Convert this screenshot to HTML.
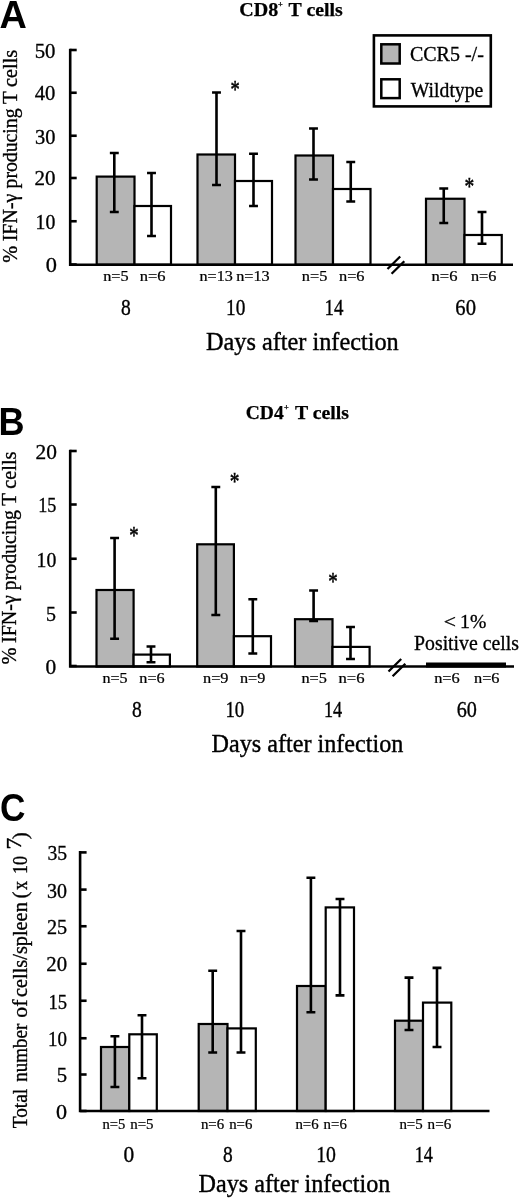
<!DOCTYPE html>
<html><head><meta charset="utf-8"><title>Figure</title>
<style>
html,body{margin:0;padding:0;background:#fff;}
svg{display:block;}
</style></head><body>
<svg width="520" height="1198" viewBox="0 0 520 1198">
<rect width="520" height="1198" fill="#fff"/>
<text transform="translate(-0.55 28.10) scale(0.9984 1)" font-size="37.97" font-weight="bold" font-family='"Liberation Sans", sans-serif' fill="#000" stroke="#000" stroke-width="0">A</text>
<text font-size="19.6" font-weight="bold" font-family='"Liberation Serif", serif' fill="#000" stroke="#000" stroke-width="0.25"><tspan x="239.30" y="16.30" textLength="38.99" lengthAdjust="spacingAndGlyphs">CD8</tspan><tspan x="278.09" y="7.30" font-size="7.5" textLength="4.73" lengthAdjust="spacingAndGlyphs">+</tspan> <tspan x="288.60" y="16.30" textLength="54.22" lengthAdjust="spacingAndGlyphs">T cells</tspan></text>
<rect x="96.7" y="176.6" width="37.80" height="88.10" fill="#b5b5b5" stroke="#000" stroke-width="2.2"/>
<rect x="134.5" y="206" width="36.50" height="58.70" fill="#fff" stroke="#000" stroke-width="2.2"/>
<rect x="197.5" y="154.5" width="37.50" height="110.20" fill="#b5b5b5" stroke="#000" stroke-width="2.2"/>
<rect x="235" y="181" width="37.00" height="83.70" fill="#fff" stroke="#000" stroke-width="2.2"/>
<rect x="295.5" y="155.5" width="37.50" height="109.20" fill="#b5b5b5" stroke="#000" stroke-width="2.2"/>
<rect x="333" y="189" width="37.50" height="75.70" fill="#fff" stroke="#000" stroke-width="2.2"/>
<rect x="426" y="198.75" width="38.50" height="65.95" fill="#b5b5b5" stroke="#000" stroke-width="2.2"/>
<rect x="464.5" y="235" width="37.25" height="29.70" fill="#fff" stroke="#000" stroke-width="2.2"/>
<path d="M114.3 153V212M109.85 153h8.9M109.85 212h8.9" stroke="#000" stroke-width="2.6" fill="none"/>
<path d="M151.5 173V236M147.05 173h8.9M147.05 236h8.9" stroke="#000" stroke-width="2.6" fill="none"/>
<path d="M216.5 92.5V185M212.05 92.5h8.9M212.05 185h8.9" stroke="#000" stroke-width="2.6" fill="none"/>
<path d="M253.5 153.75V206M249.05 153.75h8.9M249.05 206h8.9" stroke="#000" stroke-width="2.6" fill="none"/>
<path d="M313.5 128.5V179.5M309.05 128.5h8.9M309.05 179.5h8.9" stroke="#000" stroke-width="2.6" fill="none"/>
<path d="M350.75 162V201.5M346.3 162h8.9M346.3 201.5h8.9" stroke="#000" stroke-width="2.6" fill="none"/>
<path d="M443.75 188.5V223M439.3 188.5h8.9M439.3 223h8.9" stroke="#000" stroke-width="2.6" fill="none"/>
<path d="M482 212V243.75M477.55 212h8.9M477.55 243.75h8.9" stroke="#000" stroke-width="2.6" fill="none"/>
<path d="M70.2 48.7V264.7H513" stroke="#000" stroke-width="2.6" fill="none"/>
<path d="M70.2 50h6.5" stroke="#000" stroke-width="2.6"/>
<path d="M70.2 92.75h6.5" stroke="#000" stroke-width="2.6"/>
<path d="M70.2 135.75h6.5" stroke="#000" stroke-width="2.6"/>
<path d="M70.2 178h6.5" stroke="#000" stroke-width="2.6"/>
<path d="M70.2 221.25h6.5" stroke="#000" stroke-width="2.6"/>
<path d="M70.2 264.5h6.5" stroke="#000" stroke-width="2.6"/>
<path d="M387.5 269l12.7 -12.5M391.6 273.8l12.7 -12.5" stroke="#000" stroke-width="2.3" fill="none"/>
<text transform="translate(34.65 57.90) scale(1.0235 1)" font-size="20.3" font-weight="normal" font-family='"Liberation Serif", serif' fill="#000" stroke="#000" stroke-width="0.32">50</text>
<text transform="translate(34.79 99.70) scale(1.0167 1)" font-size="20.3" font-weight="normal" font-family='"Liberation Serif", serif' fill="#000" stroke="#000" stroke-width="0.32">40</text>
<text transform="translate(34.98 143.80) scale(1.0068 1)" font-size="20.3" font-weight="normal" font-family='"Liberation Serif", serif' fill="#000" stroke="#000" stroke-width="0.32">30</text>
<text transform="translate(34.46 185.30) scale(1.0337 1)" font-size="20.3" font-weight="normal" font-family='"Liberation Serif", serif' fill="#000" stroke="#000" stroke-width="0.32">20</text>
<text transform="translate(35.62 229.40) scale(0.9740 1)" font-size="20.3" font-weight="normal" font-family='"Liberation Serif", serif' fill="#000" stroke="#000" stroke-width="0.32">10</text>
<text transform="translate(45.70 271.90) scale(1.1025 1)" font-size="20.3" font-weight="normal" font-family='"Liberation Serif", serif' fill="#000" stroke="#000" stroke-width="0.32">0</text>
<text transform="translate(230.38 98.45) scale(0.7502 1)" font-size="24.66" font-weight="normal" font-family='"Liberation Serif", serif' fill="#000" stroke="#000" stroke-width="0.55">*</text>
<text transform="translate(464.42 194.69) scale(0.7653 1)" font-size="25.48" font-weight="normal" font-family='"Liberation Serif", serif' fill="#000" stroke="#000" stroke-width="0.55">*</text>
<text transform="translate(16.50 0) rotate(-90)" font-size="20.2" font-weight="normal" font-family='"Liberation Serif", serif' fill="#000" stroke="#000" stroke-width="0.32"><tspan x="-262.71" y="0.00" textLength="16.99" lengthAdjust="spacingAndGlyphs">%</tspan> <tspan x="-241.30" y="0.00" textLength="47.73" lengthAdjust="spacingAndGlyphs">IFN-γ</tspan> <tspan x="-188.50" y="0.00" textLength="80.09" lengthAdjust="spacingAndGlyphs">producing</tspan> <tspan x="-104.11" y="0.00" textLength="12.43" lengthAdjust="spacingAndGlyphs">T</tspan> <tspan x="-87.01" y="0.00" textLength="37.17" lengthAdjust="spacingAndGlyphs">cells</tspan></text>
<rect x="373.9" y="35.4" width="116.9" height="71" fill="#fff" stroke="#000" stroke-width="2.6"/>
<rect x="381.3" y="44.3" width="18.4" height="19.2" fill="#b5b5b5" stroke="#000" stroke-width="2.5"/>
<rect x="381.3" y="79.3" width="18.4" height="18.8" fill="#fff" stroke="#000" stroke-width="2.5"/>
<text transform="translate(409.90 61.00) scale(0.9770 1)" font-size="20.5" font-weight="normal" font-family='"Liberation Serif", serif' fill="#000" stroke="#000" stroke-width="0.33">CCR5 -/-</text>
<text transform="translate(410.80 97.10) scale(0.9609 1)" font-size="20.5" font-weight="normal" font-family='"Liberation Serif", serif' fill="#000" stroke="#000" stroke-width="0.33">Wildtype</text>
<text transform="translate(103.17 281.20) scale(1.0853 1)" font-size="15.0" font-weight="normal" font-family='"Liberation Serif", serif' fill="#000" stroke="#000" stroke-width="0.24">n=5</text>
<text transform="translate(139.67 281.20) scale(1.1001 1)" font-size="15.0" font-weight="normal" font-family='"Liberation Serif", serif' fill="#000" stroke="#000" stroke-width="0.24">n=6</text>
<text transform="translate(199.48 281.20) scale(1.0773 1)" font-size="15.0" font-weight="normal" font-family='"Liberation Serif", serif' fill="#000" stroke="#000" stroke-width="0.24">n=13</text>
<text transform="translate(236.17 281.20) scale(1.0840 1)" font-size="15.0" font-weight="normal" font-family='"Liberation Serif", serif' fill="#000" stroke="#000" stroke-width="0.24">n=13</text>
<text transform="translate(301.77 281.20) scale(1.0897 1)" font-size="15.0" font-weight="normal" font-family='"Liberation Serif", serif' fill="#000" stroke="#000" stroke-width="0.24">n=5</text>
<text transform="translate(338.97 281.20) scale(1.0913 1)" font-size="15.0" font-weight="normal" font-family='"Liberation Serif", serif' fill="#000" stroke="#000" stroke-width="0.24">n=6</text>
<text transform="translate(431.57 281.20) scale(1.1045 1)" font-size="15.0" font-weight="normal" font-family='"Liberation Serif", serif' fill="#000" stroke="#000" stroke-width="0.24">n=6</text>
<text transform="translate(470.88 281.20) scale(1.0825 1)" font-size="15.0" font-weight="normal" font-family='"Liberation Serif", serif' fill="#000" stroke="#000" stroke-width="0.24">n=6</text>
<text transform="translate(121.02 314.90) scale(0.8834 1)" font-size="22.1" font-weight="normal" font-family='"Liberation Serif", serif' fill="#000" stroke="#000" stroke-width="0.35">8</text>
<text transform="translate(226.06 314.90) scale(0.8739 1)" font-size="22.1" font-weight="normal" font-family='"Liberation Serif", serif' fill="#000" stroke="#000" stroke-width="0.35">10</text>
<text transform="translate(324.59 314.90) scale(0.8547 1)" font-size="22.1" font-weight="normal" font-family='"Liberation Serif", serif' fill="#000" stroke="#000" stroke-width="0.35">14</text>
<text transform="translate(455.37 314.90) scale(0.9345 1)" font-size="22.1" font-weight="normal" font-family='"Liberation Serif", serif' fill="#000" stroke="#000" stroke-width="0.35">60</text>
<text transform="translate(205.97 349.60) scale(0.9997 1)" font-size="24.3" font-weight="normal" font-family='"Liberation Serif", serif' fill="#000" stroke="#000" stroke-width="0.39">Days after infection</text>
<text transform="translate(-1.44 435.00) scale(0.9319 1)" font-size="38.7" font-weight="bold" font-family='"Liberation Sans", sans-serif' fill="#000" stroke="#000" stroke-width="0">B</text>
<text font-size="19.6" font-weight="bold" font-family='"Liberation Serif", serif' fill="#000" stroke="#000" stroke-width="0.25"><tspan x="245.72" y="419.00" textLength="37.95" lengthAdjust="spacingAndGlyphs">CD4</tspan><tspan x="284.09" y="409.60" font-size="7.5" textLength="4.73" lengthAdjust="spacingAndGlyphs">+</tspan> <tspan x="294.90" y="419.00" textLength="54.12" lengthAdjust="spacingAndGlyphs">T cells</tspan></text>
<rect x="96.5" y="590" width="37.10" height="76.50" fill="#b5b5b5" stroke="#000" stroke-width="2.2"/>
<rect x="133.6" y="654.6" width="36.30" height="11.90" fill="#fff" stroke="#000" stroke-width="2.2"/>
<rect x="197.2" y="544.3" width="36.70" height="122.20" fill="#b5b5b5" stroke="#000" stroke-width="2.2"/>
<rect x="233.9" y="636.2" width="37.10" height="30.30" fill="#fff" stroke="#000" stroke-width="2.2"/>
<rect x="295" y="619.2" width="37.50" height="47.30" fill="#b5b5b5" stroke="#000" stroke-width="2.2"/>
<rect x="332.5" y="646.9" width="37.10" height="19.60" fill="#fff" stroke="#000" stroke-width="2.2"/>
<path d="M114.6 538V638.8M110.14999999999999 538h8.9M110.14999999999999 638.8h8.9" stroke="#000" stroke-width="2.6" fill="none"/>
<path d="M151.0 646.5V662.3M146.55 646.5h8.9M146.55 662.3h8.9" stroke="#000" stroke-width="2.6" fill="none"/>
<path d="M215.8 487V615M211.35000000000002 487h8.9M211.35000000000002 615h8.9" stroke="#000" stroke-width="2.6" fill="none"/>
<path d="M252.8 599.2V653.5M248.35000000000002 599.2h8.9M248.35000000000002 653.5h8.9" stroke="#000" stroke-width="2.6" fill="none"/>
<path d="M313.6 590.5V621M309.15000000000003 590.5h8.9M309.15000000000003 621h8.9" stroke="#000" stroke-width="2.6" fill="none"/>
<path d="M350.5 627V659M346.05 627h8.9M346.05 659h8.9" stroke="#000" stroke-width="2.6" fill="none"/>
<path d="M70.2 449.7V666.5H514" stroke="#000" stroke-width="2.6" fill="none"/>
<path d="M70.2 451h6.5" stroke="#000" stroke-width="2.6"/>
<path d="M70.2 504.5h6.5" stroke="#000" stroke-width="2.6"/>
<path d="M70.2 558.75h6.5" stroke="#000" stroke-width="2.6"/>
<path d="M70.2 612.5h6.5" stroke="#000" stroke-width="2.6"/>
<path d="M70.2 666h6.5" stroke="#000" stroke-width="2.6"/>
<rect x="426" y="662.5" width="80" height="5" fill="#000"/>
<path d="M388.5 671.5l12.7 -12.5M392.6 676.3l12.7 -12.5" stroke="#000" stroke-width="2.3" fill="none"/>
<text transform="translate(35.44 459.05) scale(1.0552 1)" font-size="20.3" font-weight="normal" font-family='"Liberation Serif", serif' fill="#000" stroke="#000" stroke-width="0.32">20</text>
<text transform="translate(38.16 512.20) scale(0.8951 1)" font-size="20.3" font-weight="normal" font-family='"Liberation Serif", serif' fill="#000" stroke="#000" stroke-width="0.32">15</text>
<text transform="translate(36.62 567.20) scale(0.9740 1)" font-size="20.3" font-weight="normal" font-family='"Liberation Serif", serif' fill="#000" stroke="#000" stroke-width="0.32">10</text>
<text transform="translate(46.10 620.70) scale(0.9852 1)" font-size="20.3" font-weight="normal" font-family='"Liberation Serif", serif' fill="#000" stroke="#000" stroke-width="0.32">5</text>
<text transform="translate(45.44 673.80) scale(1.0556 1)" font-size="20.3" font-weight="normal" font-family='"Liberation Serif", serif' fill="#000" stroke="#000" stroke-width="0.32">0</text>
<text transform="translate(129.26 544.25) scale(0.7603 1)" font-size="24.66" font-weight="normal" font-family='"Liberation Serif", serif' fill="#000" stroke="#000" stroke-width="0.55">*</text>
<text transform="translate(229.73 490.43) scale(0.7772 1)" font-size="24.93" font-weight="normal" font-family='"Liberation Serif", serif' fill="#000" stroke="#000" stroke-width="0.55">*</text>
<text transform="translate(328.21 590.07) scale(0.7742 1)" font-size="24.38" font-weight="normal" font-family='"Liberation Serif", serif' fill="#000" stroke="#000" stroke-width="0.55">*</text>
<text transform="translate(16.10 0) rotate(-90)" font-size="20.2" font-weight="normal" font-family='"Liberation Serif", serif' fill="#000" stroke="#000" stroke-width="0.32"><tspan x="-664.41" y="0.00" textLength="16.99" lengthAdjust="spacingAndGlyphs">%</tspan> <tspan x="-643.00" y="0.00" textLength="47.73" lengthAdjust="spacingAndGlyphs">IFN-γ</tspan> <tspan x="-590.20" y="0.00" textLength="80.09" lengthAdjust="spacingAndGlyphs">producing</tspan> <tspan x="-505.81" y="0.00" textLength="12.43" lengthAdjust="spacingAndGlyphs">T</tspan> <tspan x="-488.71" y="0.00" textLength="37.17" lengthAdjust="spacingAndGlyphs">cells</tspan></text>
<text font-size="18.6" font-weight="normal" font-family='"Liberation Serif", serif' fill="#000" stroke="#000" stroke-width="0.3"><tspan x="443.81" y="628.10" textLength="12.25" lengthAdjust="spacingAndGlyphs">&lt;</tspan> <tspan x="460.13" y="628.10" textLength="26.22" lengthAdjust="spacingAndGlyphs">1%</tspan></text>
<text transform="translate(414.06 649.70) scale(0.9890 1)" font-size="20.0" font-weight="normal" font-family='"Liberation Serif", serif' fill="#000" stroke="#000" stroke-width="0.32">Positive cells</text>
<text transform="translate(102.48 682.60) scale(1.0720 1)" font-size="15.0" font-weight="normal" font-family='"Liberation Serif", serif' fill="#000" stroke="#000" stroke-width="0.24">n=5</text>
<text transform="translate(139.33 682.60) scale(1.0803 1)" font-size="15.0" font-weight="normal" font-family='"Liberation Serif", serif' fill="#000" stroke="#000" stroke-width="0.24">n=6</text>
<text transform="translate(202.97 682.60) scale(1.0897 1)" font-size="15.0" font-weight="normal" font-family='"Liberation Serif", serif' fill="#000" stroke="#000" stroke-width="0.24">n=9</text>
<text transform="translate(239.98 682.60) scale(1.0808 1)" font-size="15.0" font-weight="normal" font-family='"Liberation Serif", serif' fill="#000" stroke="#000" stroke-width="0.24">n=9</text>
<text transform="translate(301.47 682.60) scale(1.0853 1)" font-size="15.0" font-weight="normal" font-family='"Liberation Serif", serif' fill="#000" stroke="#000" stroke-width="0.24">n=5</text>
<text transform="translate(338.47 682.60) scale(1.1133 1)" font-size="15.0" font-weight="normal" font-family='"Liberation Serif", serif' fill="#000" stroke="#000" stroke-width="0.24">n=6</text>
<text transform="translate(434.17 682.60) scale(1.0913 1)" font-size="15.0" font-weight="normal" font-family='"Liberation Serif", serif' fill="#000" stroke="#000" stroke-width="0.24">n=6</text>
<text transform="translate(473.97 682.60) scale(1.0913 1)" font-size="15.0" font-weight="normal" font-family='"Liberation Serif", serif' fill="#000" stroke="#000" stroke-width="0.24">n=6</text>
<text transform="translate(131.92 717.30) scale(0.8834 1)" font-size="22.1" font-weight="normal" font-family='"Liberation Serif", serif' fill="#000" stroke="#000" stroke-width="0.35">8</text>
<text transform="translate(225.40 717.30) scale(0.8533 1)" font-size="22.1" font-weight="normal" font-family='"Liberation Serif", serif' fill="#000" stroke="#000" stroke-width="0.35">10</text>
<text transform="translate(323.95 717.30) scale(0.8245 1)" font-size="22.1" font-weight="normal" font-family='"Liberation Serif", serif' fill="#000" stroke="#000" stroke-width="0.35">14</text>
<text transform="translate(456.69 717.30) scale(0.9148 1)" font-size="22.1" font-weight="normal" font-family='"Liberation Serif", serif' fill="#000" stroke="#000" stroke-width="0.35">60</text>
<text transform="translate(211.58 752.40) scale(0.9940 1)" font-size="24.3" font-weight="normal" font-family='"Liberation Serif", serif' fill="#000" stroke="#000" stroke-width="0.39">Days after infection</text>
<text transform="translate(-0.01 821.31) scale(0.8974 1)" font-size="39.3" font-weight="bold" font-family='"Liberation Sans", sans-serif' fill="#000" stroke="#000" stroke-width="0">C</text>
<rect x="101.0" y="1047" width="28.30" height="64.00" fill="#b5b5b5" stroke="#000" stroke-width="2.2"/>
<rect x="129.3" y="1034.3" width="27.50" height="76.70" fill="#fff" stroke="#000" stroke-width="2.2"/>
<rect x="198.7" y="1024" width="28.80" height="87.00" fill="#b5b5b5" stroke="#000" stroke-width="2.2"/>
<rect x="227.5" y="1028.4" width="28.30" height="82.60" fill="#fff" stroke="#000" stroke-width="2.2"/>
<rect x="297" y="986" width="28.70" height="125.00" fill="#b5b5b5" stroke="#000" stroke-width="2.2"/>
<rect x="325.7" y="907.4" width="28.30" height="203.60" fill="#fff" stroke="#000" stroke-width="2.2"/>
<rect x="395" y="1020.7" width="28.00" height="90.30" fill="#b5b5b5" stroke="#000" stroke-width="2.2"/>
<rect x="423" y="1002.6" width="28.30" height="108.40" fill="#fff" stroke="#000" stroke-width="2.2"/>
<path d="M114.9 1036.2V1087M110.45 1036.2h8.9M110.45 1087h8.9" stroke="#000" stroke-width="2.6" fill="none"/>
<path d="M142 1015.2V1078.3M137.55 1015.2h8.9M137.55 1078.3h8.9" stroke="#000" stroke-width="2.6" fill="none"/>
<path d="M212.7 970.8V1052.5M208.25 970.8h8.9M208.25 1052.5h8.9" stroke="#000" stroke-width="2.6" fill="none"/>
<path d="M241 931V1052.5M236.55 931h8.9M236.55 1052.5h8.9" stroke="#000" stroke-width="2.6" fill="none"/>
<path d="M310.9 877.8V1012.3M306.45 877.8h8.9M306.45 1012.3h8.9" stroke="#000" stroke-width="2.6" fill="none"/>
<path d="M340 899V995.4M335.55 899h8.9M335.55 995.4h8.9" stroke="#000" stroke-width="2.6" fill="none"/>
<path d="M409 977.6V1030M404.55 977.6h8.9M404.55 1030h8.9" stroke="#000" stroke-width="2.6" fill="none"/>
<path d="M437 967.9V1047M432.55 967.9h8.9M432.55 1047h8.9" stroke="#000" stroke-width="2.6" fill="none"/>
<path d="M80.1 851.1V1111H489.5" stroke="#000" stroke-width="2.6" fill="none"/>
<path d="M80.1 852.4h6.5" stroke="#000" stroke-width="2.6"/>
<path d="M80.1 889.6h6.5" stroke="#000" stroke-width="2.6"/>
<path d="M80.1 926.25h6.5" stroke="#000" stroke-width="2.6"/>
<path d="M80.1 963.75h6.5" stroke="#000" stroke-width="2.6"/>
<path d="M80.1 1000.75h6.5" stroke="#000" stroke-width="2.6"/>
<path d="M80.1 1038.25h6.5" stroke="#000" stroke-width="2.6"/>
<path d="M80.1 1074.5h6.5" stroke="#000" stroke-width="2.6"/>
<path d="M80.1 1111h6.5" stroke="#000" stroke-width="2.6"/>
<text transform="translate(47.41 860.40) scale(0.9691 1)" font-size="20.3" font-weight="normal" font-family='"Liberation Serif", serif' fill="#000" stroke="#000" stroke-width="0.32">35</text>
<text transform="translate(47.10 897.60) scale(0.9852 1)" font-size="20.3" font-weight="normal" font-family='"Liberation Serif", serif' fill="#000" stroke="#000" stroke-width="0.32">30</text>
<text transform="translate(46.89 933.70) scale(0.9960 1)" font-size="20.3" font-weight="normal" font-family='"Liberation Serif", serif' fill="#000" stroke="#000" stroke-width="0.32">25</text>
<text transform="translate(46.37 971.40) scale(1.0229 1)" font-size="20.3" font-weight="normal" font-family='"Liberation Serif", serif' fill="#000" stroke="#000" stroke-width="0.32">20</text>
<text transform="translate(48.42 1009.00) scale(0.9177 1)" font-size="20.3" font-weight="normal" font-family='"Liberation Serif", serif' fill="#000" stroke="#000" stroke-width="0.32">15</text>
<text transform="translate(48.09 1046.30) scale(0.9346 1)" font-size="20.3" font-weight="normal" font-family='"Liberation Serif", serif' fill="#000" stroke="#000" stroke-width="0.32">10</text>
<text transform="translate(56.66 1082.10) scale(1.0222 1)" font-size="20.3" font-weight="normal" font-family='"Liberation Serif", serif' fill="#000" stroke="#000" stroke-width="0.32">5</text>
<text transform="translate(56.11 1119.30) scale(1.0908 1)" font-size="20.3" font-weight="normal" font-family='"Liberation Serif", serif' fill="#000" stroke="#000" stroke-width="0.32">0</text>
<text transform="translate(26.60 0) rotate(-90)" font-size="20.6" font-weight="normal" font-family='"Liberation Serif", serif' fill="#000" stroke="#000" stroke-width="0.33"><tspan x="-1128.29" y="0.00" textLength="39.49" lengthAdjust="spacingAndGlyphs">Total</tspan> <tspan x="-1081.78" y="0.00" textLength="58.06" lengthAdjust="spacingAndGlyphs">number</tspan> <tspan x="-1017.67" y="0.00" textLength="18.02" lengthAdjust="spacingAndGlyphs">of</tspan> <tspan x="-997.01" y="0.00" textLength="94.81" lengthAdjust="spacingAndGlyphs">cells/spleen</tspan> <tspan x="-898.45" y="0.00" textLength="7.05" lengthAdjust="spacingAndGlyphs">(</tspan><tspan x="-889.98" y="0.00" textLength="9.06" lengthAdjust="spacingAndGlyphs">x</tspan> <tspan x="-873.93" y="0.00" textLength="17.94" lengthAdjust="spacingAndGlyphs">10</tspan> <tspan x="-849.54" y="-6.00" textLength="11.85" lengthAdjust="spacingAndGlyphs">7</tspan><tspan x="-839.32" y="0.00" textLength="6.92" lengthAdjust="spacingAndGlyphs">)</tspan></text>
<text transform="translate(102.51 1129.30) scale(0.9745 1)" font-size="15.0" font-weight="normal" font-family='"Liberation Serif", serif' fill="#000" stroke="#000" stroke-width="0.24">n=5</text>
<text transform="translate(130.20 1129.30) scale(0.9967 1)" font-size="15.0" font-weight="normal" font-family='"Liberation Serif", serif' fill="#000" stroke="#000" stroke-width="0.24">n=5</text>
<text transform="translate(200.90 1129.30) scale(0.9923 1)" font-size="15.0" font-weight="normal" font-family='"Liberation Serif", serif' fill="#000" stroke="#000" stroke-width="0.24">n=6</text>
<text transform="translate(229.20 1129.30) scale(0.9901 1)" font-size="15.0" font-weight="normal" font-family='"Liberation Serif", serif' fill="#000" stroke="#000" stroke-width="0.24">n=6</text>
<text transform="translate(295.40 1129.30) scale(0.9901 1)" font-size="15.0" font-weight="normal" font-family='"Liberation Serif", serif' fill="#000" stroke="#000" stroke-width="0.24">n=6</text>
<text transform="translate(323.60 1129.30) scale(0.9901 1)" font-size="15.0" font-weight="normal" font-family='"Liberation Serif", serif' fill="#000" stroke="#000" stroke-width="0.24">n=6</text>
<text transform="translate(399.40 1129.30) scale(0.9967 1)" font-size="15.0" font-weight="normal" font-family='"Liberation Serif", serif' fill="#000" stroke="#000" stroke-width="0.24">n=5</text>
<text transform="translate(427.60 1129.30) scale(1.0077 1)" font-size="15.0" font-weight="normal" font-family='"Liberation Serif", serif' fill="#000" stroke="#000" stroke-width="0.24">n=6</text>
<text transform="translate(123.54 1162.00) scale(0.9696 1)" font-size="22.1" font-weight="normal" font-family='"Liberation Serif", serif' fill="#000" stroke="#000" stroke-width="0.35">0</text>
<text transform="translate(222.97 1162.00) scale(0.8780 1)" font-size="22.1" font-weight="normal" font-family='"Liberation Serif", serif' fill="#000" stroke="#000" stroke-width="0.35">8</text>
<text transform="translate(316.22 1162.00) scale(0.8946 1)" font-size="22.1" font-weight="normal" font-family='"Liberation Serif", serif' fill="#000" stroke="#000" stroke-width="0.35">10</text>
<text transform="translate(414.65 1162.00) scale(0.8245 1)" font-size="22.1" font-weight="normal" font-family='"Liberation Serif", serif' fill="#000" stroke="#000" stroke-width="0.35">14</text>
<text transform="translate(198.58 1192.30) scale(0.9940 1)" font-size="24.3" font-weight="normal" font-family='"Liberation Serif", serif' fill="#000" stroke="#000" stroke-width="0.39">Days after infection</text>
</svg>
</body></html>
